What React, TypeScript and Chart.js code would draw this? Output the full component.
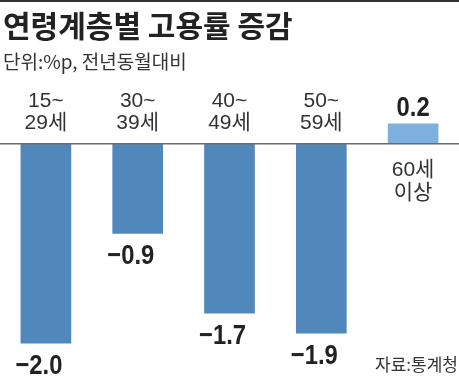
import React, { useEffect, useRef } from "react";
import { Chart, registerables } from "chart.js";

Chart.register(...registerables);

const TITLE = "연령계층별 고용률 증감";
const SUBTITLE = "단위:%p, 전년동월대비";
const SOURCE = "자료:통계청";

const categoryLines: string[][] = [
  ["15~", "29세"],
  ["30~", "39세"],
  ["40~", "49세"],
  ["50~", "59세"],
  ["60세", "이상"],
];
const values: number[] = [-2.0, -0.9, -1.7, -1.9, 0.2];
const negColor = "#5088bb";
const posColor = "#7db0dc";

const W = 459;
const H = 381;

function drawText(
  ctx: CanvasRenderingContext2D,
  text: string,
  x: number,
  y: number,
  font: string,
  align: CanvasTextAlign,
  sx = 1,
  color = "#222"
) {
  ctx.save();
  ctx.font = font;
  ctx.fillStyle = color;
  ctx.textAlign = align;
  ctx.textBaseline = "alphabetic";
  ctx.translate(x, y);
  ctx.scale(sx, 1);
  ctx.fillText(text, 0, 0);
  ctx.restore();
}

const fmt = (v: number) => (v < 0 ? "\u2212" : "") + Math.abs(v).toFixed(1);

const overlay = {
  id: "overlay",
  afterDatasetsDraw(chart: any) {
    const ctx: CanvasRenderingContext2D = chart.ctx;
    const y = chart.scales.y;
    const x = chart.scales.x;
    const zero = y.getPixelForValue(0);

    // top rule
    ctx.save();
    ctx.fillStyle = "#333";
    ctx.fillRect(0, 0, W, 2);
    ctx.restore();

    // axis line
    ctx.save();
    ctx.strokeStyle = "#6a6a6a";
    ctx.lineWidth = 1.6;
    ctx.beginPath();
    ctx.moveTo(0, zero);
    ctx.lineTo(W, zero);
    ctx.stroke();
    ctx.restore();

    drawText(ctx, TITLE, 3, 37, 'bold 30px "Noto Sans CJK KR"', "left");
    drawText(ctx, SUBTITLE, 3, 69, '19px "Noto Sans CJK KR"', "left", 1, "#333");
    drawText(ctx, SOURCE, 458, 371, '17px "Noto Sans CJK KR"', "right", 1, "#333");

    const meta = chart.getDatasetMeta(0);
    const catFont = '21px "Liberation Sans", "Noto Sans CJK KR"';
    const valFont = 'bold 28px "Liberation Sans"';
    const sx = 0.85;
    values.forEach((v, i) => {
      const bar = meta.data[i];
      const cx = x.getPixelForValue(i);
      const lines = categoryLines[i];
      if (v < 0) {
        drawText(ctx, lines[0], cx, zero - 37, catFont, "center", 1, "#333");
        drawText(ctx, lines[1], cx, zero - 15, catFont, "center", 1, "#333");
        ctx.save();
        ctx.font = valFont;
        const mw = ctx.measureText("\u2212").width * sx;
        ctx.restore();
        drawText(ctx, fmt(v), cx - mw / 2, bar.y + 31, valFont, "center", sx, "#222");
      } else {
        drawText(ctx, lines[0], cx, zero + 32, catFont, "center", 1, "#333");
        drawText(ctx, lines[1], cx, zero + 55, catFont, "center", 1, "#333");
        drawText(ctx, fmt(v), cx, bar.y - 8, valFont, "center", sx, "#222");
      }
    });
  },
};

export default function App() {
  const ref = useRef<HTMLCanvasElement>(null);
  useEffect(() => {
    document.body.style.margin = "0";
    const canvas = ref.current!;
    const chart = new Chart(canvas, {
      type: "bar",
      data: {
        labels: categoryLines.map((l) => l.join(" ")),
        datasets: [
          {
            data: values,
            backgroundColor: values.map((v) => (v < 0 ? negColor : posColor)),
            borderWidth: 0,
            barThickness: 50,
          },
        ],
      },
      options: {
        responsive: false,
        animation: false,
        layout: { padding: { top: 44, bottom: 18, left: 0, right: 0 } },
        scales: {
          x: { display: false, offset: true },
          y: { display: false, min: -2.2, max: 1.0 },
        },
        plugins: {
          legend: { display: false },
          tooltip: { enabled: false },
        },
      },
      plugins: [overlay],
    });
    return () => chart.destroy();
  }, []);
  return (
    <div style={{ position: "fixed", left: 0, top: 0, width: W, height: H, background: "#fff" }}>
      <canvas ref={ref} width={W} height={H} style={{ width: W, height: H, display: "block" }} />
    </div>
  );
}
